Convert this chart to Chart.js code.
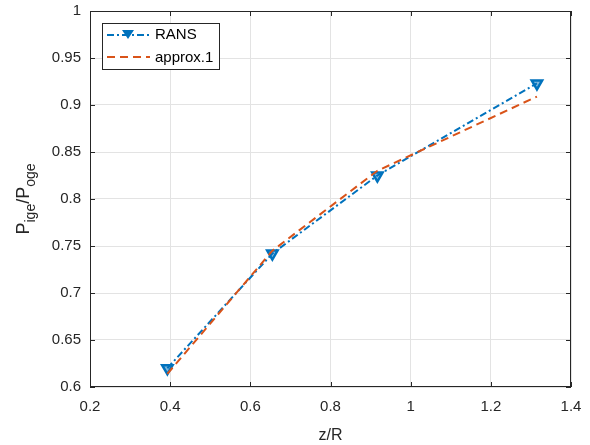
<!DOCTYPE html>
<html>
<head>
<meta charset="utf-8">
<script src="https://cdn.jsdelivr.net/npm/chart.js@4.4.1/dist/chart.umd.min.js"></script>
<style>
  body { margin: 0; background: #fff; }
  #wrap { width: 590px; height: 445px; }
</style>
</head>
<body>
<div id="wrap"><canvas id="grafico" width="590" height="445"></canvas></div>
<script>
// z/R values
var zR = [0.393, 0.655, 0.917, 1.315];
var rans = [0.620, 0.742, 0.825, 0.923];
var approx1 = [0.614, 0.745, 0.830, 0.909];
var xTicks = [0.2, 0.4, 0.6, 0.8, 1, 1.2, 1.4];
var yTicks = [0.6, 0.65, 0.7, 0.75, 0.8, 0.85, 0.9, 0.95, 1];

var azul = '#0072BD';
var naranja = '#D95319';
var fuente = '"Liberation Sans", Arial, sans-serif';

function pares(xs, ys) {
	return xs.map(function (x, i) { return { x: x, y: ys[i] }; });
}

// axis labels, inward ticks and legend
var extras = {
	id: 'extras',
	afterDraw: function (chart) {
		var ctx = chart.ctx;
		var a = chart.chartArea;
		var sx = chart.scales.x, sy = chart.scales.y;
		ctx.save();
		// frame
		ctx.strokeStyle = '#262626';
		ctx.lineWidth = 1;
		ctx.strokeRect(Math.round(a.left) + 0.5, Math.round(a.top) + 0.5, Math.round(a.right - a.left) - 1, Math.round(a.bottom - a.top) - 1);
		// inward tick marks
		ctx.beginPath();
		xTicks.forEach(function (v) {
			var px = Math.round(sx.getPixelForValue(v)) + 0.5;
			ctx.moveTo(px, a.bottom); ctx.lineTo(px, a.bottom - 5);
			ctx.moveTo(px, a.top); ctx.lineTo(px, a.top + 5);
		});
		yTicks.forEach(function (v) {
			var py = Math.round(sy.getPixelForValue(v)) + 0.5;
			ctx.moveTo(a.left, py); ctx.lineTo(a.left + 5, py);
			ctx.moveTo(a.right, py); ctx.lineTo(a.right - 5, py);
		});
		ctx.stroke();

		// x label
		ctx.fillStyle = '#262626';
		ctx.font = '16px ' + fuente;
		ctx.textAlign = 'center';
		ctx.textBaseline = 'alphabetic';
		ctx.fillText('z/R', (a.left + a.right) / 2, 440);

		// y label with subscripts
		ctx.translate(29, (a.top + a.bottom) / 2);
		ctx.rotate(-Math.PI / 2);
		var partes = [['P', 18, 0], ['ige', 14, 6], ['/P', 18, 0], ['oge', 14, 6]];
		var ancho = 0;
		partes.forEach(function (p) { ctx.font = p[1] + 'px ' + fuente; ancho += ctx.measureText(p[0]).width; });
		var cx = -ancho / 2;
		ctx.textAlign = 'left';
		partes.forEach(function (p) {
			ctx.font = p[1] + 'px ' + fuente;
			ctx.fillText(p[0], cx, p[2]);
			cx += ctx.measureText(p[0]).width;
		});
		ctx.restore();

		// legend
		ctx.save();
		ctx.fillStyle = '#fff';
		ctx.fillRect(102, 23, 118, 47);
		ctx.strokeStyle = '#262626';
		ctx.lineWidth = 1;
		ctx.strokeRect(102.5, 23.5, 117, 46);
		ctx.lineWidth = 2;
		ctx.strokeStyle = azul;
		ctx.setLineDash([7, 3, 2, 3]);
		ctx.beginPath(); ctx.moveTo(107, 35); ctx.lineTo(150, 35); ctx.stroke();
		ctx.setLineDash([]);
		ctx.fillStyle = azul;
		ctx.beginPath(); ctx.moveTo(122, 30); ctx.lineTo(134, 30); ctx.lineTo(128, 39); ctx.closePath(); ctx.fill();
		ctx.strokeStyle = naranja;
		ctx.setLineDash([8, 5]);
		ctx.beginPath(); ctx.moveTo(107, 57); ctx.lineTo(150, 57); ctx.stroke();
		ctx.setLineDash([]);
		ctx.fillStyle = '#000';
		ctx.font = '15px ' + fuente;
		ctx.textAlign = 'left';
		ctx.textBaseline = 'middle';
		ctx.fillText('RANS', 155, 35);
		ctx.fillText('approx.1', 155, 58);
		ctx.restore();
	}
};

function etiqueta(v) {
	return String(Math.round(v * 100) / 100);
}

var contexto = document.getElementById('grafico').getContext('2d');
var grafico = new Chart(contexto, {
	type: 'line',
	data: {
		datasets: [{
			label: 'approx.1',
			data: pares(zR, approx1),
			borderColor: naranja,
			borderWidth: 2,
			borderDash: [8, 5],
			pointRadius: 0,
			fill: false,
			tension: 0
		}, {
			label: 'RANS',
			data: pares(zR, rans),
			borderColor: azul,
			backgroundColor: 'rgba(0,114,189,0.5)',
			borderWidth: 2,
			borderDash: [7, 3, 2, 3],
			pointStyle: 'triangle',
			rotation: 180,
			pointRadius: 6,
			pointBorderWidth: 2.5,
			fill: false,
			tension: 0
		}]
	},
	options: {
		responsive: false,
		animation: false,
		layout: { padding: { left: 0, top: 11, right: 19, bottom: 0 } },
		plugins: { legend: { display: false }, tooltip: { enabled: false } },
		scales: {
			x: {
				type: 'linear',
				min: 0.2, max: 1.4,
				afterFit: function (s) { s.height = 58; s.paddingLeft = 0; s.paddingRight = 0; },
				afterBuildTicks: function (s) { s.ticks = xTicks.map(function (v) { return { value: v }; }); },
				grid: { color: '#e3e3e3', drawTicks: false },
				border: { display: false },
				ticks: { color: '#262626', font: { size: 15, family: fuente }, padding: 11, maxRotation: 0, callback: etiqueta }
			},
			y: {
				min: 0.6, max: 1,
				afterFit: function (s) { s.width = 90; s.paddingTop = 0; s.paddingBottom = 0; },
				afterBuildTicks: function (s) { s.ticks = yTicks.map(function (v) { return { value: v }; }); },
				grid: { color: '#e3e3e3', drawTicks: false },
				border: { display: false },
				ticks: { color: '#262626', font: { size: 15, family: fuente }, padding: 9, callback: etiqueta }
			}
		}
	},
	plugins: [extras]
});
</script>
</body>
</html>
